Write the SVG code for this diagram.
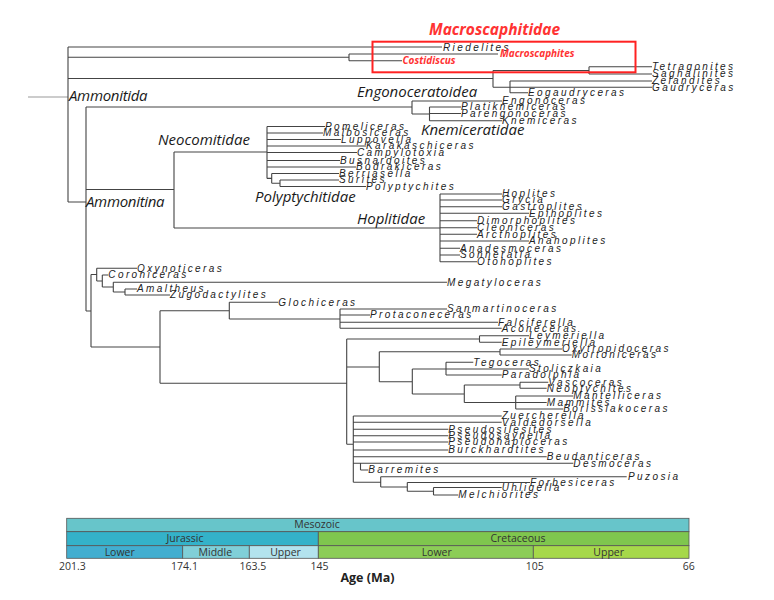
<svg xmlns="http://www.w3.org/2000/svg" width="774" height="600" viewBox="0 0 774 600">
<style>
.ln{fill:none;stroke:#444;stroke-width:1.1}
.lf{font-family:"Liberation Sans",Arial,sans-serif;font-style:italic;font-size:10px;letter-spacing:2.4px;fill:#222}
.cl{font-family:"Open Sans",sans-serif;font-style:italic;font-size:15px;fill:#1a1a1a}
.rd{font-family:"Open Sans",sans-serif;font-style:italic;font-weight:bold;fill:#f33}
.ts{font-family:"Open Sans",sans-serif;font-size:10.5px;fill:#333;text-anchor:middle}
.ax{font-family:"Open Sans",sans-serif;font-size:12.5px;font-weight:bold;fill:#222;text-anchor:middle}
.bx{stroke:#555;stroke-width:0.8}
</style>
<rect width="774" height="600" fill="#fff"/>
<g id="connectors">
<path d="M28 97H68" fill="none" stroke="#999" stroke-width="1.1"/>
<path class="ln" d="M68 47V202M68 47H442M68 57.3H349M349 54V60.7M349 54H498M349 60.7H402
M68 78.5H493M493 70.5V87.3M493 70.5H589M589 66.7V74M589 66.7H652M589 74H652M493 87.3H652M510 81V92.7M510 81H652M510 92.7H528
M68 202H86M86 107V311M86 107H412M412 101V114M412 101H502M412 114H429.5M429.5 107V120.7M429.5 107H461M429.5 113.5H461M429.5 120.7H502
M86 189.5H174M174 152V228M174 152H267M267 126.5V178.4M267 126.5H325M267 133H323M267 139.5H341M267 146H366M267 152.5H357M267 160.5H340M267 167H356M267 178.4H271.7M271.7 173.5V183.3M271.7 173.5H339M271.7 183.3H280M280 180V186.5M280 180H339M280 186.5H366
M174 228H440M440 194V261.7M440 194H502M440 200H502M440 206.7H502M440 213.3H529M440 220.7H477M440 227.7H477M440 234.3H477M440 241H529M440 248.3H460M440 255H460M440 261.7H477
M86 311H91M91 274.5V347M91 274.5H96.7M96.7 268.3V281M96.7 268.3H137M96.7 281H102.3M102.3 275V287M102.3 275H108.3M102.3 287H113.3M113.3 282.3V292M113.3 282.3H447M113.3 292H125M125 289V295M125 289H137M125 295H170
M91 347H160M160 310.7V383.3M160 310.7H229.3M229.3 302.3V319M229.3 302.3H278.3M229.3 319H340M340 309V328.3M340 309H447M340 315H370M340 322.3H498M340 328.3H501.7
M160 383.3H346.7M346.7 339V444.3M346.7 339H479.5M479.5 335.7V342.3M479.5 335.7H529M479.5 342.3H501.7
M346.7 367H379.3M379.3 351.7V381.7M379.3 351.7H500M500 349V355M500 349H562M500 355H571.7
M379.3 381.7H412.3M412.3 369V394M412.3 369H446M446 362.3V375M446 362.3H473.3M446 369H529M446 375H501.7
M412.3 394H464.3M464.3 385V402.5M464.3 385H520M520 382.3V388.3M520 382.3H548.3M520 388.3H546.7M464.3 402.5H515.7M515.7 396V409M515.7 396H573.3M515.7 402.5H546.7M515.7 409H563.3
M346.7 444.3H353.3M353.3 416V482.3M353.3 416H501.7M353.3 422.3H501.7M353.3 429.3H448.3M353.3 435.7H448.3M353.3 442H448.3M353.3 450H448.3M353.3 456.7H546.7M353.3 463.3H573.3M360.5 463.3V470M360.5 470H368.3
M353.3 482.3H380.7M380.7 476.7V487M380.7 476.7H626.7M380.7 487H407.3M407.3 482.5V491.3M407.3 482.5H530M407.3 491.3H433.5M433.5 487.5V495M433.5 487.5H501.7M433.5 495H458.3"/>
</g>
<g id="macroscaphitidae-box">
<rect x="372.5" y="41.7" width="263" height="30.6" fill="none" stroke="#f22" stroke-width="2"/>
<text class="rd" x="429" y="35" font-size="15.5">Macroscaphitidae</text>
</g>
<g id="clades">
<text class="cl" x="69" y="101" letter-spacing="-0.3">Ammonitida</text>
<text class="cl" x="357" y="97">Engonoceratoidea</text>
<text class="cl" x="421" y="135">Knemiceratidae</text>
<text class="cl" x="158" y="145">Neocomitidae</text>
<text class="cl" x="255" y="202">Polyptychitidae</text>
<text class="cl" x="86" y="207" letter-spacing="-0.3">Ammonitina</text>
<text class="cl" x="357" y="224">Hoplitidae</text>
</g>
<g id="leaves">
<g id="n-riedelites"><text class="lf" x="443" y="50.5">Riedelites</text></g>
<g id="n-macroscaphites"><text class="rd" x="500" y="57" font-size="10">Macroscaphites</text></g>
<g id="n-costidiscus"><text class="rd" x="402.5" y="64.3" font-size="10">Costidiscus</text></g>
<g id="n-tetragonites"><text class="lf" x="652" y="70">Tetragonites</text></g>
<g id="n-saghalinites"><text class="lf" x="652" y="77.4">Saghalinites</text></g>
<g id="n-zelandites"><text class="lf" x="652" y="84.4">Zelandites</text></g>
<g id="n-gaudryceras"><text class="lf" x="652" y="90.7">Gaudryceras</text></g>
<g id="n-eogaudryceras"><text class="lf" x="528" y="96.1">Eogaudryceras</text></g>
<g id="n-engonoceras"><text class="lf" x="502" y="104.4">Engonoceras</text></g>
<g id="n-platiknemiceras"><text class="lf" x="461" y="110.4">Platiknemiceras</text></g>
<g id="n-parengonoceras"><text class="lf" x="461" y="116.9">Parengonoceras</text></g>
<g id="n-knemiceras"><text class="lf" x="502" y="124.1">Knemiceras</text></g>
<g id="n-pomeliceras"><text class="lf" x="325" y="129.9">Pomeliceras</text></g>
<g id="n-malbosiceras"><text class="lf" x="323" y="136.4">Malbosiceras</text></g>
<g id="n-luppovella"><text class="lf" x="341" y="142.9">Luppovella</text></g>
<g id="n-karakaschiceras"><text class="lf" x="366" y="149.4">Karakaschiceras</text></g>
<g id="n-campylotoxia"><text class="lf" x="357" y="155.9">Campylotoxia</text></g>
<g id="n-busnardoites"><text class="lf" x="340" y="163.9">Busnardoites</text></g>
<g id="n-bodrakiceras"><text class="lf" x="356" y="170.4">Bodrakiceras</text></g>
<g id="n-berriasella"><text class="lf" x="339" y="176.9">Berriasella</text></g>
<g id="n-surites"><text class="lf" x="339" y="183.4">Surites</text></g>
<g id="n-polyptychites"><text class="lf" x="366" y="189.9">Polyptychites</text></g>
<g id="n-hoplites"><text class="lf" x="502" y="197.4">Hoplites</text></g>
<g id="n-grycia"><text class="lf" x="502" y="203.4">Grycia</text></g>
<g id="n-gastroplites"><text class="lf" x="502" y="210.1">Gastroplites</text></g>
<g id="n-epihoplites"><text class="lf" x="529" y="216.7">Epihoplites</text></g>
<g id="n-dimorphoplites"><text class="lf" x="477" y="224.1">Dimorphoplites</text></g>
<g id="n-cleoniceras"><text class="lf" x="477" y="231.1">Cleoniceras</text></g>
<g id="n-arcthoplites"><text class="lf" x="477" y="237.7">Arcthoplites</text></g>
<g id="n-anahoplites"><text class="lf" x="529" y="244.4">Anahoplites</text></g>
<g id="n-anadesmoceras"><text class="lf" x="460" y="251.7">Anadesmoceras</text></g>
<g id="n-sonneratia"><text class="lf" x="460" y="258.4">Sonneratia</text></g>
<g id="n-otohoplites"><text class="lf" x="477" y="265.1">Otohoplites</text></g>
<g id="n-oxynoticeras"><text class="lf" x="137" y="271.7">Oxynoticeras</text></g>
<g id="n-coroniceras"><text class="lf" x="108.3" y="278.4">Coroniceras</text></g>
<g id="n-megatyloceras"><text class="lf" x="447" y="285.7">Megatyloceras</text></g>
<g id="n-amaltheus"><text class="lf" x="137" y="292.4">Amaltheus</text></g>
<g id="n-zugodactylites"><text class="lf" x="170" y="298.4">Zugodactylites</text></g>
<g id="n-glochiceras"><text class="lf" x="278.3" y="305.7">Glochiceras</text></g>
<g id="n-sanmartinoceras"><text class="lf" x="447" y="312.4">Sanmartinoceras</text></g>
<g id="n-protaconeceras"><text class="lf" x="370" y="318.4">Protaconeceras</text></g>
<g id="n-falciferella"><text class="lf" x="498" y="325.7">Falciferella</text></g>
<g id="n-aconeceras"><text class="lf" x="501.7" y="331.7">Aconeceras</text></g>
<g id="n-leymeriella"><text class="lf" x="529" y="339.1">Leymeriella</text></g>
<g id="n-epileymeriella"><text class="lf" x="501.7" y="345.7">Epileymeriella</text></g>
<g id="n-oxytropidoceras"><text class="lf" x="562" y="352.4">Oxytropidoceras</text></g>
<g id="n-mortoniceras"><text class="lf" x="571.7" y="358.4">Mortoniceras</text></g>
<g id="n-tegoceras"><text class="lf" x="473.3" y="365.7">Tegoceras</text></g>
<g id="n-stoliczkaia"><text class="lf" x="529" y="372.4">Stoliczkaia</text></g>
<g id="n-paradolphia"><text class="lf" x="501.7" y="378.4">Paradolphia</text></g>
<g id="n-vascoceras"><text class="lf" x="548.3" y="385.7">Vascoceras</text></g>
<g id="n-neoptychites"><text class="lf" x="546.7" y="391.7">Neoptychites</text></g>
<g id="n-mantelliceras"><text class="lf" x="573.3" y="399.4">Mantelliceras</text></g>
<g id="n-mammites"><text class="lf" x="546.7" y="405.9">Mammites</text></g>
<g id="n-borissiakoceras"><text class="lf" x="563.3" y="412.4">Borissiakoceras</text></g>
<g id="n-zuercherella"><text class="lf" x="501.7" y="419.4">Zuercherella</text></g>
<g id="n-valdedorsella"><text class="lf" x="501.7" y="425.7">Valdedorsella</text></g>
<g id="n-pseudosilesites"><text class="lf" x="448.3" y="432.7">Pseudosilesites</text></g>
<g id="n-pseudosaynella"><text class="lf" x="448.3" y="439.1">Pseudosaynella</text></g>
<g id="n-pseudohaploceras"><text class="lf" x="448.3" y="445.4">Pseudohaploceras</text></g>
<g id="n-burckhardtites"><text class="lf" x="448.3" y="453.4">Burckhardtites</text></g>
<g id="n-beudanticeras"><text class="lf" x="546.7" y="460.1">Beudanticeras</text></g>
<g id="n-desmoceras"><text class="lf" x="573.3" y="466.7">Desmoceras</text></g>
<g id="n-barremites"><text class="lf" x="368.3" y="473.4">Barremites</text></g>
<g id="n-puzosia"><text class="lf" x="628" y="480.1">Puzosia</text></g>
<g id="n-forbesiceras"><text class="lf" x="530" y="485.9">Forbesiceras</text></g>
<g id="n-uhligella"><text class="lf" x="501.7" y="490.9">Uhligella</text></g>
<g id="n-melchiorites"><text class="lf" x="458.3" y="498.4">Melchiorites</text></g>
</g>
<g id="timescale">
<rect class="bx" x="66.7" y="518.3" width="622.3" height="13.4" fill="#67c5ca"/>
<rect class="bx" x="66.7" y="531.7" width="251.6" height="14" fill="#34b2c9"/>
<rect class="bx" x="318.3" y="531.7" width="370.7" height="14" fill="#7fc64e"/>
<rect class="bx" x="66.7" y="545.7" width="116" height="12.6" fill="#42aed0"/>
<rect class="bx" x="182.7" y="545.7" width="66.6" height="12.6" fill="#80cfd8"/>
<rect class="bx" x="249.3" y="545.7" width="69" height="12.6" fill="#b3e3ee"/>
<rect class="bx" x="318.3" y="545.7" width="215" height="12.6" fill="#8ccd57"/>
<rect class="bx" x="533.3" y="545.7" width="155.7" height="12.6" fill="#a6d84a"/>
<text class="ts" x="317" y="528.3">Mesozoic</text>
<text class="ts" x="185" y="542.3">Jurassic</text>
<text class="ts" x="518" y="542.3">Cretaceous</text>
<text class="ts" x="119.7" y="555.5">Lower</text>
<text class="ts" x="215.3" y="555.5">Middle</text>
<text class="ts" x="285.5" y="555.5">Upper</text>
<text class="ts" x="436.7" y="555.5">Lower</text>
<text class="ts" x="608.7" y="555.5">Upper</text>
<text class="ts" x="72.3" y="569.5">201.3</text>
<text class="ts" x="184.5" y="569.5">174.1</text>
<text class="ts" x="252.8" y="569.5">163.5</text>
<text class="ts" x="319.5" y="569.5">145</text>
<text class="ts" x="534.7" y="569.5">105</text>
<text class="ts" x="688.8" y="569.5">66</text>
<text class="ax" x="367.5" y="582">Age (Ma)</text>
</g>
</svg>
